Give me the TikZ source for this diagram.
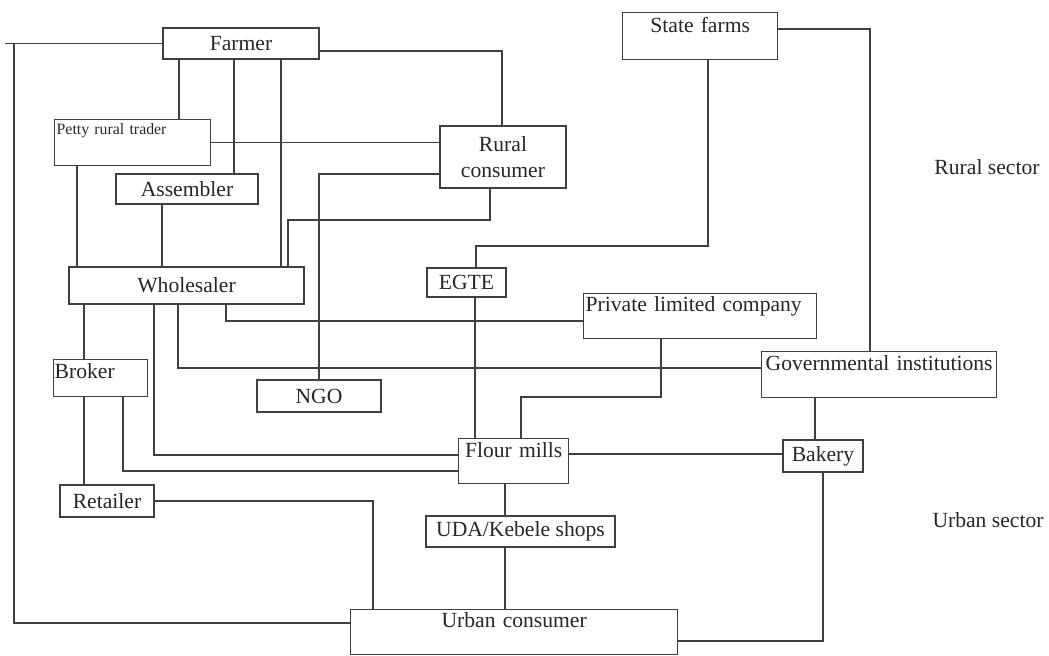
\documentclass[tikz,border=0pt]{standalone}
\usepackage{fontspec}
\setmainfont{Liberation Serif}
\usetikzlibrary{positioning}

\tikzset{
  box/.style={draw=black!75, line width=0.8pt, rectangle, inner sep=0pt},
  link/.style={draw=black!75, line width=0.8pt},
}

\begin{document}
\begin{tikzpicture}[x=0.02cm, y=-0.02cm, every node/.style={font=\fontsize{12.3}{14.8}\selectfont, text=black!85}]
  \useasboundingbox (0,0) rectangle (1049,656);
  % rural side
  \node[box, minimum width=3.12cm, minimum height=0.62cm] (farmer) at (241,43.5) {Farmer};
  \node[box, anchor=north west, text width=3.10cm, align=center, text height=0.40cm, text depth=0.54cm] (state) at (622,12) {State farms};
  \node[box, anchor=north west, inner xsep=0.04cm, text width=3.04cm, align=left, text height=0.30cm, text depth=0.62cm, font=\fontsize{9}{11}\selectfont] (petty) at (54,119) {Petty rural trader};
  \node[box, minimum width=2.84cm, minimum height=0.60cm] (assembler) at (187,189) {Assembler};
  \node[box, minimum width=2.52cm, minimum height=1.24cm, align=center] (rural) at (503,157) {Rural\\consumer};
  \node[box, minimum width=4.70cm, minimum height=0.74cm] (wholesaler) at (186.5,285.5) {Wholesaler};
  \node[box, minimum width=1.58cm, minimum height=0.58cm] (egte) at (466.5,282.5) {EGTE};
  \node[box, anchor=north west, inner xsep=0.04cm, text width=4.58cm, align=left, text height=0.36cm, text depth=0.54cm] (private) at (583,293) {Private limited company};
  \node[box, minimum width=2.48cm, minimum height=0.64cm] (ngo) at (319,396) {NGO};
  \node[box, anchor=north west, inner xsep=0.02cm, text width=1.84cm, align=left, text height=0.38cm, text depth=0.36cm] (broker) at (53,359) {Broker};
  \node[box, anchor=north west, text width=4.70cm, align=center, text height=0.38cm, text depth=0.54cm] (gov) at (761,351) {Governmental institutions};
  % urban side
  \node[box, anchor=north west, text width=2.20cm, align=center, text height=0.38cm, text depth=0.52cm] (flour) at (458,438) {Flour mills};
  \node[box, minimum width=1.60cm, minimum height=0.64cm] (bakery) at (823,456) {Bakery};
  \node[box, minimum width=1.88cm, minimum height=0.64cm] (retailer) at (107,501) {Retailer};
  \node[box, minimum width=3.78cm, minimum height=0.62cm] (uda) at (520.5,531.5) {UDA/Kebele shops};
  \node[box, anchor=north west, text width=6.54cm, align=center, text height=0.36cm, text depth=0.54cm] (urban) at (350,609) {Urban consumer};
  \node (rsec) at (987,167) {Rural sector};
  \node (usec) at (988,520) {Urban sector};
  \coordinate (edge) at (5,43.5);

  % links
  \draw[link] (farmer.west) -- (edge);
  \draw[link] (edge -| 14,0) |- (urban.west |- 0,623);
  \draw[link] (farmer.east |- 0,51) -| (rural.north -| 502,0);
  \draw[link] (farmer.south -| 179,0) -- (petty.north -| 179,0);
  \draw[link] (farmer.south -| 234,0) -- (assembler.north -| 234,0);
  \draw[link] (farmer.south -| 281,0) -- (wholesaler.north -| 281,0);
  \draw[link] (petty.east) -- (rural.west |- petty.east);
  \draw[link] (petty.south -| 77,0) -- (wholesaler.north -| 77,0);
  \draw[link] (assembler.south -| 162,0) -- (wholesaler.north -| 162,0);
  \draw[link] (rural.south -| 490,0) |- (288,220) -- (wholesaler.north -| 288,0);
  \draw[link] (rural.west |- 0,174) -| (ngo.north -| 319,0);
  \draw[link] (state.east |- 0,29) -| (gov.north -| 870,0);
  \draw[link] (state.south -| 708,0) |- (476,246) -- (egte.north -| 476,0);
  \draw[link] (egte.south -| 475,0) -- (flour.north -| 475,0);
  \draw[link] (private.south -| 661,0) |- (521,397) -- (flour.north -| 521,0);
  \draw[link] (wholesaler.south -| 226,0) |- (private.west |- 0,321);
  \draw[link] (wholesaler.south -| 178,0) |- (gov.west |- 0,368);
  \draw[link] (wholesaler.south -| 84,0) -- (broker.north -| 84,0);
  \draw[link] (wholesaler.south -| 154,0) |- (flour.west |- 0,455);
  \draw[link] (broker.south -| 84,0) -- (retailer.north -| 84,0);
  \draw[link] (broker.south -| 123,0) |- (flour.west |- 0,471);
  \draw[link] (flour.east |- 0,454) -- (bakery.west |- 0,454);
  \draw[link] (gov.south -| 815,0) -- (bakery.north -| 815,0);
  \draw[link] (bakery.south -| 823,0) |- (urban.east |- 0,641);
  \draw[link] (flour.south -| 505,0) -- (uda.north -| 505,0);
  \draw[link] (uda.south -| 505,0) -- (urban.north -| 505,0);
  \draw[link] (retailer.east |- 0,501) -| (urban.north -| 373,0);
\end{tikzpicture}
\end{document}
